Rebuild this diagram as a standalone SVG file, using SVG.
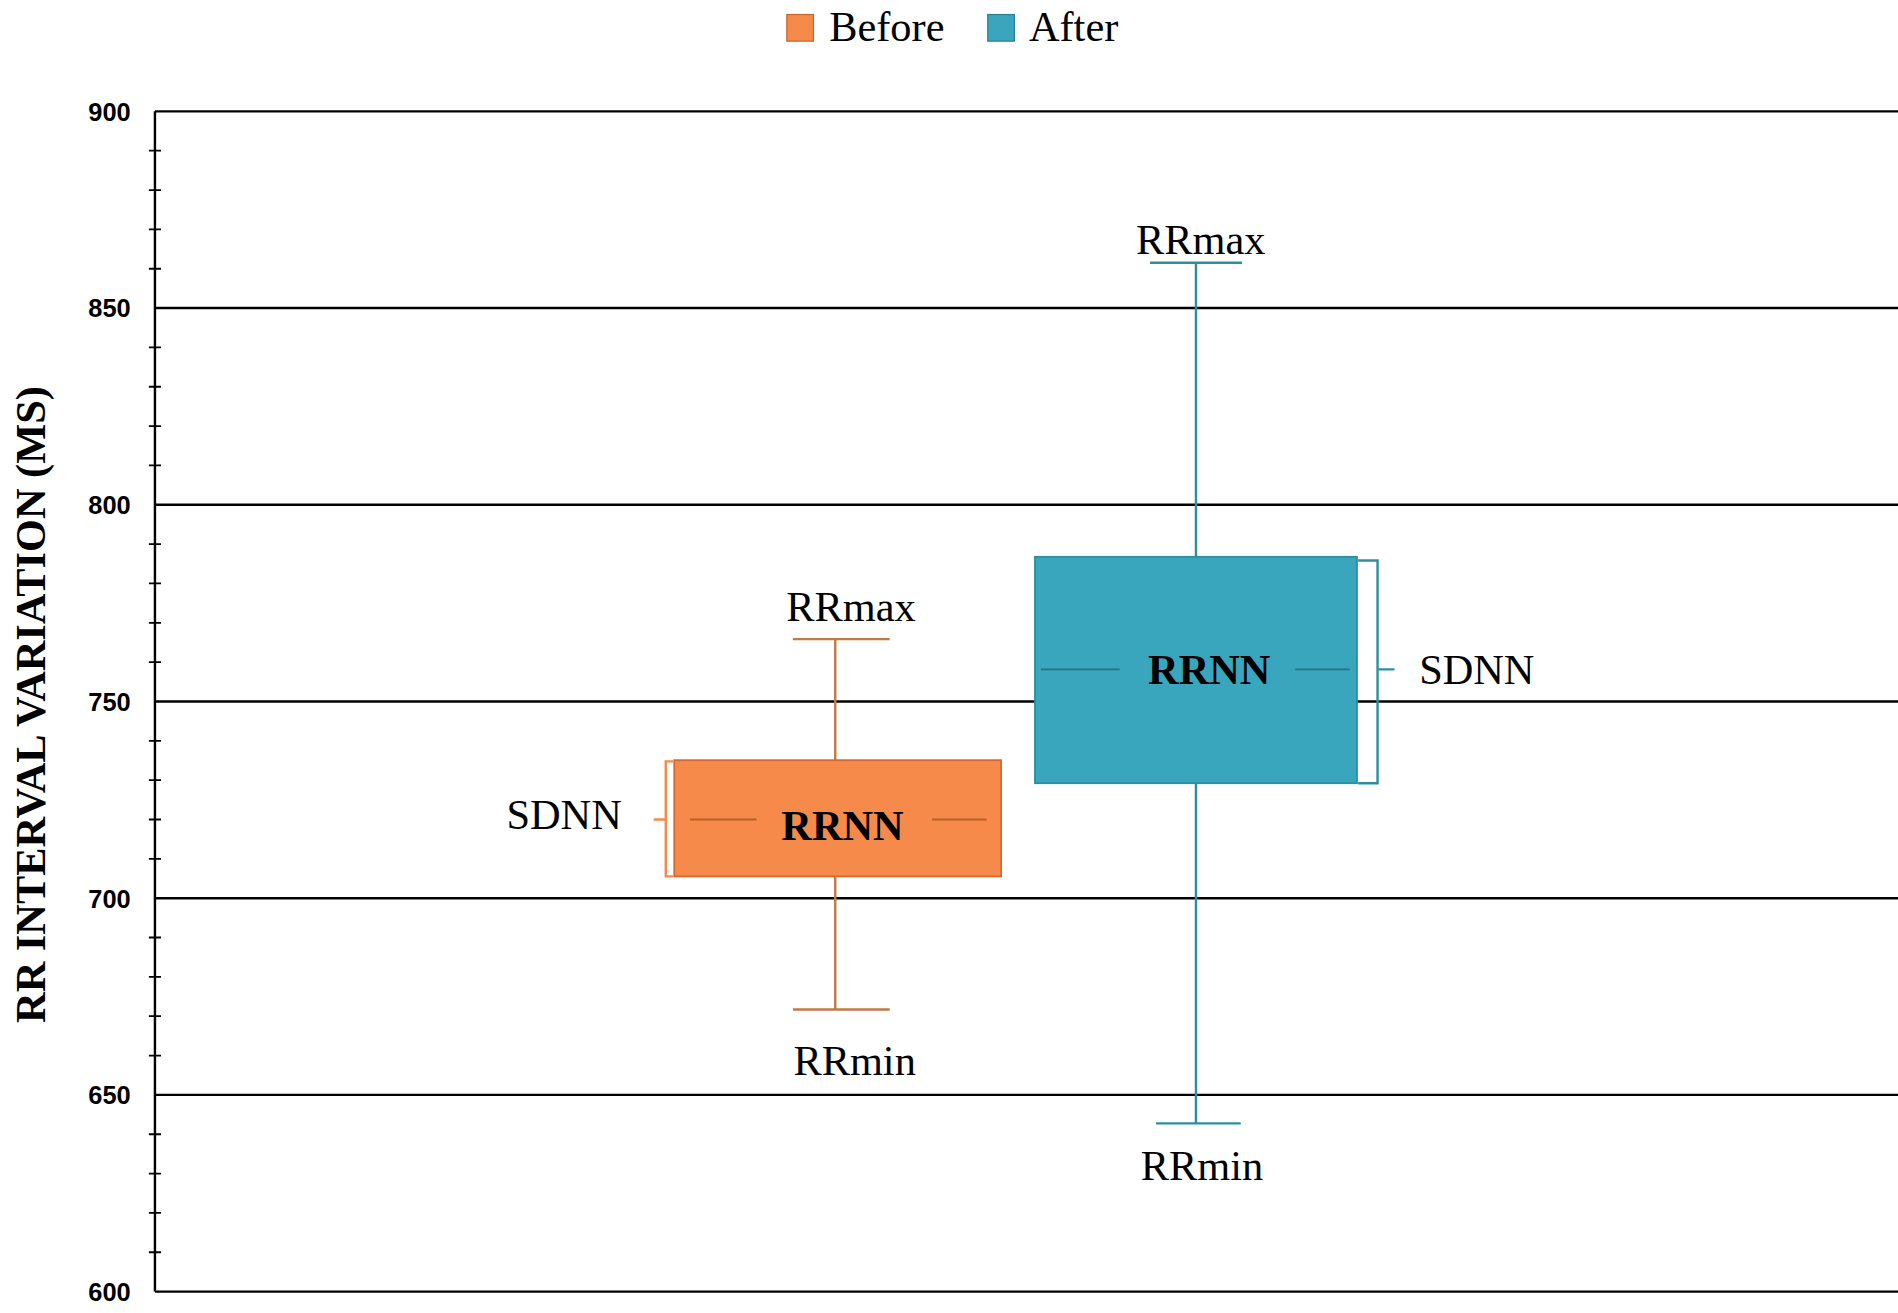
<svg xmlns="http://www.w3.org/2000/svg" width="1898" height="1313" viewBox="0 0 1898 1313">
<style>
.grid{stroke:#000;stroke-width:2}
.tick{stroke:#000;stroke-width:1.5}
.yl{font-family:"Liberation Sans",Arial,sans-serif;font-weight:bold;font-size:21px;text-anchor:end}
.lab{font-family:"Liberation Serif","Times New Roman",serif;font-size:35px;text-anchor:middle}
.bold{font-weight:bold}
</style>
<rect width="1898" height="1313" fill="#fff"/>
<g transform="scale(1.2105)">
<g id="axis">
<line class="grid" x1="128" y1="92" x2="128" y2="1067"/>
<line class="grid" x1="128" y1="92" x2="1568" y2="92"/>
<line class="grid" x1="128" y1="254.5" x2="1568" y2="254.5"/>
<line class="grid" x1="128" y1="417" x2="1568" y2="417"/>
<line class="grid" x1="128" y1="579.5" x2="1568" y2="579.5"/>
<line class="grid" x1="128" y1="742" x2="1568" y2="742"/>
<line class="grid" x1="128" y1="904.5" x2="1568" y2="904.5"/>
<line class="grid" x1="128" y1="1067" x2="1568" y2="1067"/>
<path class="tick" d="M123 124.5h10M123 157h10M123 189.5h10M123 222h10M123 287h10M123 319.5h10M123 352h10M123 384.5h10M123 449.5h10M123 482h10M123 514.5h10M123 547h10M123 612h10M123 644.5h10M123 677h10M123 709.5h10M123 774.5h10M123 807h10M123 839.5h10M123 872h10M123 937h10M123 969.5h10M123 1002h10M123 1034.5h10"/>
<text class="yl" x="108" y="100">900</text>
<text class="yl" x="108" y="262">850</text>
<text class="yl" x="108" y="425">800</text>
<text class="yl" x="108" y="587">750</text>
<text class="yl" x="108" y="750">700</text>
<text class="yl" x="108" y="912">650</text>
<text class="yl" x="108" y="1075">600</text>
<text class="lab bold" transform="translate(37,582) rotate(-90)" font-size="36">RR INTERVAL VARIATION (MS)</text>
</g>
<g id="legend">
<rect x="650" y="12" width="22" height="22" fill="#F58A4B" stroke="#C8652C"/>
<text class="lab" x="685" y="34" style="text-anchor:start">Before</text>
<rect x="816" y="12" width="22" height="22" fill="#3AA6BD" stroke="#2A7F90"/>
<text class="lab" x="850" y="34" style="text-anchor:start">After</text>
</g>
<g id="connectors">
<line x1="690" y1="528" x2="690" y2="628" stroke="#C07A46" stroke-width="2"/>
<line x1="690" y1="724" x2="690" y2="834" stroke="#C07A46" stroke-width="2"/>
<line x1="655" y1="528" x2="735" y2="528" stroke="#C07A46" stroke-width="2"/>
<line x1="655" y1="834" x2="735" y2="834" stroke="#C07A46" stroke-width="2"/>
<line x1="988" y1="217" x2="988" y2="460" stroke="#2E8E9E" stroke-width="2"/>
<line x1="988" y1="647" x2="988" y2="928" stroke="#2E8E9E" stroke-width="2"/>
<line x1="950" y1="217" x2="1026" y2="217" stroke="#2E8E9E" stroke-width="2"/>
<line x1="955" y1="928" x2="1025" y2="928" stroke="#2E8E9E" stroke-width="2"/>
</g>
<g id="before">
<rect x="557" y="628" width="270" height="96" fill="#F58A4B" stroke="#D9682B" stroke-width="1.5"/>
<line x1="570" y1="677" x2="625" y2="677" stroke="#B85E2A" stroke-width="1.5"/>
<line x1="770" y1="677" x2="815" y2="677" stroke="#B85E2A" stroke-width="1.5"/>
<text class="lab bold" x="696" y="694">RRNN</text>
<path d="M556 629h-6v95h6M550 677h-10" fill="none" stroke="#F58A4B" stroke-width="2"/>
<text class="lab" x="466" y="685">SDNN</text>
<text class="lab" x="703" y="513">RRmax</text>
<text class="lab" x="706" y="888">RRmin</text>
</g>
<g id="after">
<rect x="855" y="460" width="266" height="187" fill="#3AA6BD" stroke="#2A8EA3" stroke-width="1.5"/>
<line x1="860" y1="553" x2="925" y2="553" stroke="#1F7585" stroke-width="1.5"/>
<line x1="1070" y1="553" x2="1115" y2="553" stroke="#1F7585" stroke-width="1.5"/>
<text class="lab bold" x="999" y="565">RRNN</text>
<path d="M1122 463h16v184h-16M1138 553h14" fill="none" stroke="#2E8E9E" stroke-width="2"/>
<text class="lab" x="1220" y="565">SDNN</text>
<text class="lab" x="992" y="210">RRmax</text>
<text class="lab" x="993" y="975">RRmin</text>
</g>
</g>
</svg>
